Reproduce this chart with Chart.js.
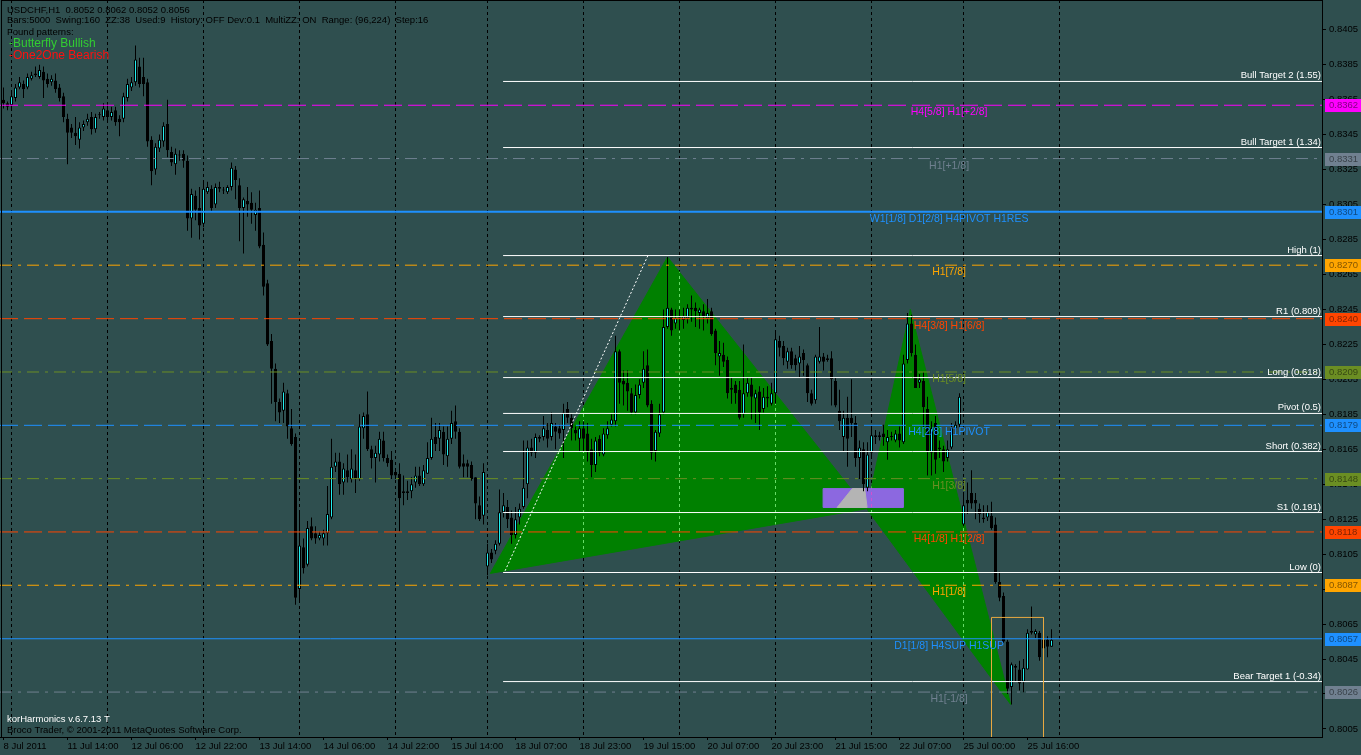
<!DOCTYPE html>
<html lang="en">
<head>
    <meta charset="UTF-8">
    <title>USDCHF,H1</title>
    <script src="https://cdn.jsdelivr.net/npm/chart.js@4.4.1/dist/chart.umd.min.js"></script>
    <style>
        html, body { margin: 0; padding: 0; background: #2f4f4f; overflow: hidden; }
        canvas { display: block; }
    </style>
</head>
<body>
<canvas id="chart" width="1361" height="755"></canvas>
<script>
    // H1 candles, prices in pips (0.0001). bar 0 = 8 Jul 22:00
    const openP = [
        8365,8363,8362,8366,8372,8374,8372,8377,8379,8378,
        8381,8377,8375,8376,8372,8367,8354,8349,8346,8342,
        8349,8352,8355,8348,8356,8355,8359,8355,8359,8354,
        8354,8366,8372,8375,8384,8378,8375,8342,8325,8337,
        8341,8351,8335,8328,8333,8334,8330,8297,8310,8303,
        8294,8312,8314,8305,8314,8313,8312,8315,8325,8316,
        8303,8307,8306,8299,8303,8282,8260,8227,8211,8192,
        8187,8197,8177,8172,8085,8109,8099,8121,8117,8114,
        8114,8117,8126,8155,8158,8146,8153,8148,8153,8148,
        8177,8185,8165,8160,8162,8170,8160,8159,8152,8151,
        8140,8140,8141,8146,8150,8145,8151,8160,8172,8171,
        8175,8161,8171,8181,8175,8157,8157,8156,8149,8133,
        8127,8098,8106,8107,8111,8129,8132,8126,8116,8126,
        8132,8145,8166,8163,8172,8172,8176,8172,8178,8177,
        8176,8188,8183,8176,8171,8177,8174,8165,8156,8171,
        8162,8173,8179,8181,8221,8204,8203,8197,8186,8196,
        8203,8213,8191,8164,8174,8186,8235,8245,8237,8240,
        8239,8240,8245,8246,8243,8244,8240,8244,8233,8218,
        8219,8216,8199,8202,8199,8185,8197,8202,8194,8198,
        8188,8195,8191,8197,8227,8224,8215,8221,8217,8214,
        8220,8213,8197,8193,8215,8218,8217,8217,8204,8187,
        8172,8183,8183,8180,8160,8165,8143,8163,8172,8172,
        8174,8169,8172,8170,8174,8169,8216,8237,8219,8203,
        8204,8188,8163,8180,8165,8165,8160,8166,8177,8179,
        8122,8136,8140,8136,8131,8126,8126,8127,8122,8089,
        8081,8055,8029,8040,8039,8032,8039,8060,8059,8060,
        8056,8056,8052
    ];
    const highP = [
        8372,8364,8369,8374,8378,8376,8380,8381,8384,8385,
        8384,8380,8379,8380,8374,8369,8357,8351,8355,8352,
        8353,8357,8358,8357,8358,8363,8362,8361,8361,8356,
        8369,8377,8378,8396,8389,8389,8377,8344,8340,8345,
        8352,8365,8338,8337,8336,8336,8333,8314,8313,8315,
        8319,8318,8316,8317,8318,8315,8316,8329,8327,8320,
        8309,8315,8312,8306,8313,8289,8262,8231,8214,8194,
        8203,8199,8188,8174,8129,8114,8124,8126,8121,8118,
        8119,8144,8171,8163,8163,8157,8162,8165,8162,8185,
        8186,8198,8167,8167,8175,8175,8162,8164,8153,8157,
        8150,8147,8149,8155,8155,8156,8169,8183,8180,8180,
        8178,8178,8187,8190,8177,8162,8159,8158,8149,8138,
        8157,8111,8108,8113,8142,8140,8136,8130,8132,8134,
        8170,8170,8171,8174,8173,8184,8180,8186,8180,8179,
        8191,8192,8185,8178,8181,8181,8180,8171,8172,8173,
        8177,8181,8185,8230,8222,8210,8210,8200,8202,8205,
        8221,8222,8193,8176,8191,8245,8275,8246,8245,8245,
        8246,8248,8253,8249,8246,8248,8251,8246,8234,8227,
        8226,8218,8206,8204,8204,8225,8206,8206,8199,8201,
        8200,8201,8203,8233,8230,8227,8223,8223,8219,8224,
        8222,8214,8199,8219,8235,8220,8219,8221,8206,8199,
        8187,8195,8205,8184,8170,8169,8169,8177,8176,8175,
        8179,8176,8175,8176,8178,8219,8243,8242,8225,8208,
        8209,8195,8181,8184,8170,8167,8170,8180,8181,8197,
        8140,8146,8153,8140,8134,8133,8133,8135,8126,8095,
        8083,8056,8043,8042,8044,8045,8062,8075,8062,8061,
        8062,8058,8062
    ];
    const lowP = [
        8360,8359,8359,8364,8371,8366,8371,8376,8378,8377,
        8366,8372,8373,8369,8364,8352,8328,8343,8339,8337,
        8347,8350,8345,8346,8354,8353,8353,8353,8350,8344,
        8352,8364,8370,8373,8372,8367,8338,8316,8322,8335,
        8338,8332,8327,8322,8330,8326,8290,8286,8296,8285,
        8292,8311,8301,8303,8312,8311,8311,8313,8308,8284,
        8277,8298,8294,8290,8280,8253,8224,8191,8181,8180,
        8180,8171,8167,8076,8078,8094,8098,8113,8111,8113,
        8110,8110,8125,8152,8139,8139,8146,8146,8140,8147,
        8171,8164,8154,8146,8158,8158,8155,8148,8148,8118,
        8133,8136,8137,8143,8144,8144,8151,8159,8164,8164,
        8156,8155,8168,8171,8154,8149,8149,8147,8125,8124,
        8122,8093,8100,8105,8110,8126,8120,8111,8114,8122,
        8131,8137,8161,8160,8169,8170,8166,8170,8165,8171,
        8160,8180,8170,8170,8164,8164,8158,8149,8152,8161,
        8161,8171,8178,8178,8191,8190,8187,8185,8185,8194,
        8200,8189,8159,8158,8172,8185,8234,8230,8234,8233,
        8234,8237,8238,8235,8234,8233,8237,8230,8213,8207,
        8212,8194,8191,8191,8182,8183,8195,8182,8180,8176,
        8186,8189,8190,8191,8218,8213,8211,8211,8210,8206,
        8207,8192,8190,8191,8214,8210,8215,8190,8189,8176,
        8164,8155,8172,8155,8148,8141,8141,8160,8168,8170,
        8167,8159,8170,8169,8166,8168,8214,8218,8200,8200,
        8177,8150,8150,8151,8160,8152,8158,8165,8175,8177,
        8121,8128,8131,8125,8123,8123,8124,8119,8088,8078,
        8054,8025,8019,8032,8027,8026,8039,8059,8057,8044,
        8043,8046,8052
    ];
    const closeP = [
        8363,8361,8367,8372,8375,8371,8378,8379,8380,8382,
        8376,8374,8377,8371,8366,8355,8346,8346,8344,8349,
        8351,8354,8348,8355,8356,8360,8355,8358,8352,8352,
        8367,8374,8375,8388,8374,8374,8341,8324,8338,8342,
        8350,8336,8329,8334,8333,8330,8297,8311,8302,8293,
        8314,8315,8303,8315,8315,8313,8315,8326,8319,8303,
        8308,8305,8302,8302,8281,8258,8225,8211,8192,8186,
        8198,8178,8168,8080,8110,8097,8120,8114,8114,8116,
        8117,8128,8155,8158,8145,8154,8149,8154,8148,8178,
        8184,8165,8160,8163,8171,8160,8157,8150,8150,8137,
        8141,8141,8145,8150,8145,8153,8160,8171,8168,8176,
        8162,8171,8180,8175,8155,8155,8155,8148,8134,8125,
        8152,8106,8102,8111,8129,8133,8125,8116,8125,8131,
        8143,8166,8163,8172,8171,8177,8171,8180,8175,8174,
        8186,8183,8177,8174,8177,8171,8164,8156,8170,8163,
        8174,8177,8182,8221,8203,8202,8198,8186,8196,8202,
        8211,8190,8163,8175,8185,8235,8246,8233,8240,8240,
        8241,8246,8246,8244,8245,8241,8243,8231,8220,8220,
        8215,8197,8200,8197,8183,8197,8203,8195,8197,8186,
        8195,8194,8197,8228,8223,8217,8221,8213,8213,8218,
        8216,8197,8191,8218,8218,8215,8216,8205,8190,8181,
        8183,8171,8180,8160,8166,8145,8162,8173,8173,8173,
        8172,8172,8172,8174,8170,8214,8237,8220,8200,8205,
        8189,8164,8177,8159,8166,8158,8165,8177,8179,8195,
        8133,8134,8134,8134,8128,8125,8129,8120,8089,8080,
        8055,8028,8042,8041,8031,8040,8060,8061,8061,8046,
        8051,8052,8056
    ];

    // time axis (bar index -> label) and daily grid
    const timeIdx = [0, 16, 32, 48, 64, 80, 96, 112, 128, 144, 160, 176, 192, 208, 224, 240, 256];
    const timeLabels = ['8 Jul 2011', '11 Jul 14:00', '12 Jul 06:00', '12 Jul 22:00', '13 Jul 14:00', '14 Jul 06:00',
        '14 Jul 22:00', '15 Jul 14:00', '18 Jul 07:00', '18 Jul 23:00', '19 Jul 15:00', '20 Jul 07:00',
        '20 Jul 23:00', '21 Jul 15:00', '22 Jul 07:00', '25 Jul 00:00', '25 Jul 16:00'];
    const dayIdx = [2, 26, 50, 74, 98, 121, 145, 169, 193, 217, 240, 264];

    const priceTicks = [0.8005, 0.8025, 0.8045, 0.8065, 0.8085, 0.8105, 0.8125, 0.8145, 0.8165, 0.8185, 0.8205,
        0.8225, 0.8245, 0.8265, 0.8285, 0.8305, 0.8325, 0.8345, 0.8365, 0.8385, 0.8405];

    // harmonic fib levels (white)
    const fibNames = ['Bull Target 2 (1.55)', 'Bull Target 1 (1.34)', 'High (1)', 'R1 (0.809)', 'Long (0.618)',
        'Pivot (0.5)', 'Short (0.382)', 'S1 (0.191)', 'Low (0)', 'Bear Target 1 (-0.34)'];
    const fibPrices = [0.83754, 0.83376, 0.82758, 0.82409, 0.82060, 0.81855, 0.81637, 0.81288, 0.80945, 0.80321];
    const fibStart = 124.9;

    // murrey math levels
    const mmNames = ['H4[5/8] H1[+2/8]', 'H1[+1/8]', 'W1[1/8] D1[2/8] H4PIVOT H1RES', 'H1[7/8]', 'H4[3/8] H1[6/8]',
        'H1[5/8]', 'H4[2/8] H1PIVOT', 'H1[3/8]', 'H4[1/8] H1[2/8]', 'H1[1/8]', 'D1[1/8] H4SUP H1SUP', 'H1[-1/8]'];
    const mmPrices = [0.83618, 0.83313, 0.83008, 0.82703, 0.82397, 0.82092, 0.81787, 0.81482, 0.81177, 0.80872, 0.80566, 0.80261];
    const mmColors = ['#ff00ff', '#708090', '#1e90ff', '#ffa500', '#ff4500', '#6b8e23',
        '#1e90ff', '#6b8e23', '#ff4500', '#ffa500', '#1e90ff', '#708090'];
    const mmStyles = ['dash', 'dashdot', 'thick', 'dashdot', 'dash', 'dashdot', 'dash', 'dashdot', 'dash', 'dashdot', 'solid', 'dashdot'];
    const mmLabelIdx = 236.4;

    // butterfly X A B C D
    const patIdx = [121.7, 166, 215.8, 226.7, 251.8];
    const patPrice = [0.8094, 0.8275, 0.8131, 0.8245, 0.8019];
    const dotIdx = [125.4, 161.1];
    const dotPrice = [0.80955, 0.82758];
    const boxIdx = [204.9, 224.9];
    const boxPrice = [0.81317, 0.81425];
    const greyIdx = [208.4, 215.9, 215.3, 212.2];
    const greyPrice = [0.81317, 0.81317, 0.81425, 0.81425];
    const rectIdx = [247, 260];
    const rectPrice = [0.80688, 0.7995];

    const xMin = -0.875, xMax = 329.625;
    const yMin = 0.80004, yMax = 0.8422;
    const FONT = "'Liberation Sans', Arial, sans-serif";
    const UP = '#22eeee', DOWN = '#000000';

    const idx = openP.map((_, i) => i);
    const pt = (x, y) => ({x: x, y: y});

    function hline(p, color, width, dash, x0, order) {
        return {
            type: 'line', data: [pt(x0, p), pt(xMax, p)], borderColor: color, borderWidth: width,
            borderDash: dash, pointRadius: 0, fill: false, order: order, xAxisID: 'x', yAxisID: 'y'
        };
    }

    function poly(points, color, order, tint) {
        return {
            type: 'line', data: points, borderColor: color, backgroundColor: color, borderWidth: 1,
            pointRadius: 0, fill: 'shape', order: order, tint: tint, xAxisID: 'x', yAxisID: 'y'
        };
    }

    // no padding reserved for half tick labels: plot fills the whole frame
    function noPad(s) {
        s.paddingTop = 0;
        s.paddingBottom = 0;
        s.paddingLeft = 0;
        s.paddingRight = 0;
    }

    const dashFor = {dash: [18, 6], dashdot: [12, 6, 3, 6], thick: [], solid: []};

    const datasets = [];
    datasets.push(poly([pt(patIdx[0], patPrice[0]), pt(patIdx[1], patPrice[1]), pt(patIdx[2], patPrice[2]), pt(patIdx[0], patPrice[0])], '#008000', 50, '#66dd66'));
    datasets.push(poly([pt(patIdx[2], patPrice[2]), pt(patIdx[3], patPrice[3]), pt(patIdx[4], patPrice[4]), pt(patIdx[2], patPrice[2])], '#008000', 50, '#66dd66'));
    datasets.push(poly([pt(boxIdx[0], boxPrice[1]), pt(boxIdx[1], boxPrice[1]), pt(boxIdx[1], boxPrice[0]), pt(boxIdx[0], boxPrice[0]), pt(boxIdx[0], boxPrice[1])], '#8c68e0', 45, '#d050d0'));
    datasets.push(poly(greyIdx.map((v, k) => pt(v, greyPrice[k])).concat([pt(greyIdx[0], greyPrice[0])]), '#b4b4b4', 44));

    mmPrices.forEach((p, k) => {
        datasets.push(hline(p, mmColors[k], mmStyles[k] === 'thick' ? 2 : 1, dashFor[mmStyles[k]], xMin, 20));
    });
    fibPrices.forEach(p => datasets.push(hline(p, '#ffffff', 1, [], fibStart, 15)));

    datasets.push({
        type: 'line', data: [pt(dotIdx[0], dotPrice[0]), pt(dotIdx[1], dotPrice[1])], borderColor: '#ffffff',
        borderWidth: 1, borderDash: [2, 2], pointRadius: 0, fill: false, order: 14, xAxisID: 'x', yAxisID: 'y'
    });
    datasets.push({
        type: 'line', data: [pt(rectIdx[0], rectPrice[1]), pt(rectIdx[0], rectPrice[0]), pt(rectIdx[1], rectPrice[0]), pt(rectIdx[1], rectPrice[1])],
        borderColor: '#e8a840', borderWidth: 1, pointRadius: 0, fill: false, order: 14, xAxisID: 'x', yAxisID: 'y'
    });

    // candles: wicks then bodies (bodies on top)
    datasets.push({
        type: 'bar', data: idx.map(i => ({x: i, y: [lowP[i] / 1e4, highP[i] / 1e4]})),
        backgroundColor: '#000', borderWidth: 0, barThickness: 1, maxBarThickness: 1, grouped: false,
        minBarLength: 1, inflateAmount: 0, order: 30, xAxisID: 'x', yAxisID: 'y'
    });
    datasets.push({
        type: 'bar', data: idx.map(i => ({x: i, y: [openP[i] / 1e4, closeP[i] / 1e4]})),
        backgroundColor: idx.map(i => closeP[i] > openP[i] ? UP : DOWN), borderColor: '#000', borderWidth: 1,
        borderSkipped: false, barThickness: 3, maxBarThickness: 3, grouped: false, minBarLength: 1,
        inflateAmount: 0, order: 29, xAxisID: 'x', yAxisID: 'y'
    });

    const gridTint = {
        id: 'gridTint',
        afterDatasetDraw(chart, args) {
            const ds = chart.data.datasets[args.index];
            if (!ds.tint) return;
            const {ctx, chartArea} = chart;
            const xs = chart.scales.x;
            const pts = args.meta.data;
            ctx.save();
            ctx.beginPath();
            pts.forEach((p, k) => k ? ctx.lineTo(p.x, p.y) : ctx.moveTo(p.x, p.y));
            ctx.closePath();
            ctx.clip();
            ctx.strokeStyle = ds.tint;
            ctx.lineWidth = 1;
            ctx.setLineDash([3, 3]);
            dayIdx.forEach(v => {
                const px = Math.round(xs.getPixelForValue(v) - 0.5) + 0.5;
                ctx.beginPath();
                ctx.moveTo(px, chartArea.top);
                ctx.lineTo(px, chartArea.bottom);
                ctx.stroke();
            });
            ctx.restore();
        }
    };

    const overlayText = {
        id: 'overlayText',
        afterDatasetsDraw(chart) {
            const {ctx, chartArea, scales: {x, y}} = chart;
            ctx.save();
            ctx.font = '9.5px ' + FONT;
            ctx.fillStyle = '#ffffff';
            ctx.textAlign = 'right';
            ctx.textBaseline = 'bottom';
            fibNames.forEach((t, k) => {
                ctx.fillText(t, chartArea.right - 1, Math.round(y.getPixelForValue(fibPrices[k])) - 1);
            });
            ctx.font = '10.5px ' + FONT;
            ctx.textAlign = 'center';
            ctx.textBaseline = 'top';
            mmNames.forEach((t, k) => {
                ctx.fillStyle = mmColors[k];
                ctx.fillText(t, x.getPixelForValue(mmLabelIdx), Math.round(y.getPixelForValue(mmPrices[k])) + 2);
            });
            ctx.restore();
        },
        afterDraw(chart) {
            const {ctx, chartArea, scales: {y}} = chart;
            ctx.save();
            // frame
            ctx.strokeStyle = '#000';
            ctx.lineWidth = 1;
            ctx.strokeRect(chartArea.left + 1.5, chartArea.top + 0.5, chartArea.right - chartArea.left - 1, chartArea.bottom - chartArea.top);
            // price markers on the axis
            ctx.font = '9.5px ' + FONT;
            ctx.textAlign = 'left';
            ctx.textBaseline = 'middle';
            mmPrices.forEach((p, k) => {
                const py = Math.round(y.getPixelForValue(p));
                ctx.fillStyle = mmColors[k];
                ctx.fillRect(chartArea.right + 3, py - 6, 36, 13);
                ctx.fillStyle = 'rgba(0,0,0,0.5)';
                ctx.fillText(p.toFixed(4), chartArea.right + 7, py + 0.5);
            });
            // indicator header
            ctx.fillStyle = '#000';
            ctx.fillText('USDCHF,H1  0.8052 0.8062 0.8052 0.8056', 7, 10);
            ctx.fillText('Bars:5000  Swing:160  ZZ:38  Used:9  History: OFF Dev:0.1  MultiZZ: ON  Range: (96,224)  Step:16', 7, 20);
            ctx.fillText('Found patterns:', 7, 32);
            ctx.font = '12px ' + FONT;
            ctx.fillStyle = '#32cd32';
            ctx.fillText('-Butterfly Bullish', 9, 44);
            ctx.fillStyle = '#ff1010';
            ctx.fillText('-One2One Bearish', 9, 56);
            ctx.font = '9.5px ' + FONT;
            ctx.fillStyle = '#ffffff';
            ctx.fillText('korHarmonics v.6.7.13 T', 7, 719);
            ctx.fillStyle = '#000';
            ctx.fillText('Broco Trader, \u00a9 2001-2011 MetaQuotes Software Corp.', 7, 730);
            ctx.restore();
        }
    };

    new Chart(document.getElementById('chart'), {
        type: 'bar',
        data: {datasets: datasets},
        options: {
            responsive: false,
            animation: false,
            devicePixelRatio: 1,
            layout: {padding: 0},
            events: [],
            plugins: {legend: {display: false}, tooltip: {enabled: false}},
            scales: {
                x: {
                    type: 'linear', position: 'bottom', min: xMin, max: xMax, offset: false,
                    afterBuildTicks: s => { s.ticks = timeIdx.map(v => ({value: v})); },
                    afterFit: s => { s.height = 18; noPad(s); },
                    ticks: {
                        align: 'start', maxRotation: 0, autoSkip: false, padding: 1, color: '#000',
                        font: {family: FONT, size: 9.5},
                        callback: v => timeLabels[timeIdx.indexOf(v)]
                    },
                    grid: {drawOnChartArea: false, offset: false, tickLength: 3, color: '#000'},
                    border: {color: '#000'}
                },
                xg: {
                    type: 'linear', position: 'bottom', min: xMin, max: xMax, offset: false,
                    afterBuildTicks: s => { s.ticks = dayIdx.map(v => ({value: v})); },
                    afterFit: s => { s.height = 0; noPad(s); },
                    ticks: {display: false},
                    grid: {color: '#000', lineWidth: 1, drawTicks: false, offset: false},
                    border: {display: false, dash: [3, 3]}
                },
                y: {
                    type: 'linear', position: 'right', min: yMin, max: yMax, beginAtZero: false, grace: 0,
                    afterBuildTicks: s => { s.ticks = priceTicks.map(v => ({value: v})); },
                    afterFit: s => { s.width = 39; noPad(s); },
                    ticks: {
                        color: '#000', padding: 3, font: {family: FONT, size: 9.5},
                        callback: v => v.toFixed(4)
                    },
                    grid: {drawOnChartArea: false, tickLength: 4, color: '#000'},
                    border: {color: '#000'}
                }
            }
        },
        plugins: [gridTint, overlayText]
    });
</script>
</body>
</html>
